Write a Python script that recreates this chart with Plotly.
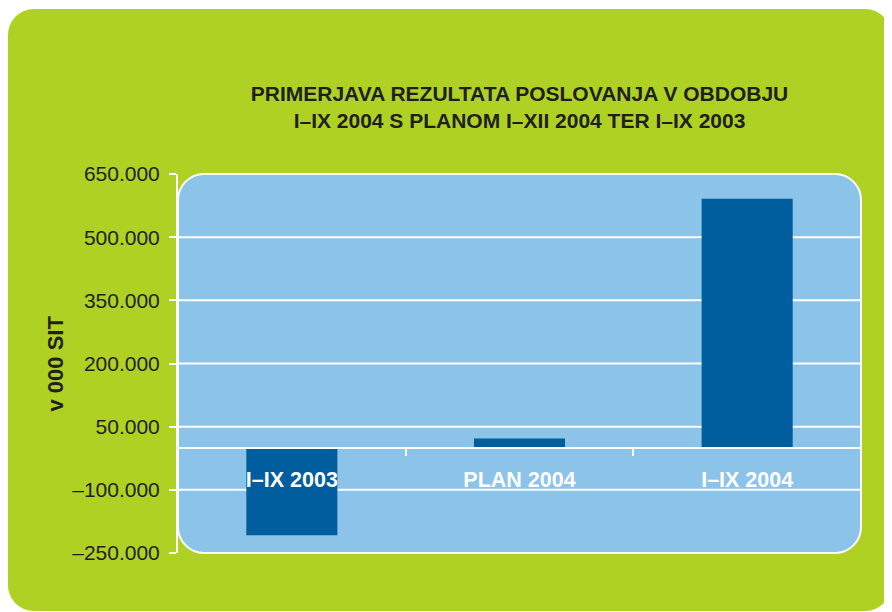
import plotly.graph_objects as go

# ---- data ----
categories = ["I–IX 2003", "PLAN 2004", "I–IX 2004"]
values = [-208000, 22000, 591000]
y_tickvals = [-250000, -100000, 50000, 200000, 350000, 500000, 650000]
y_ticktext = ["–250.000", "–100.000", "50.000", "200.000", "350.000", "500.000", "650.000"]
grid_values = [-100000, 50000, 200000, 350000, 500000]
y_range = [-250000, 650000]
title_text = "PRIMERJAVA REZULTATA POSLOVANJA V OBDOBJU<br>I–IX 2004 S PLANOM I–XII 2004 TER I–IX 2003"
y_title = "v 000 SIT"

# ---- layout constants (pixels, figure coordinates) ----
W, H = 892, 612
ML, MT = 170, 166
PLOT_R, PLOT_B = 853, 545
MR, MB = W - PLOT_R, H - PLOT_B
PW = W - ML - MR
PH = H - MT - MB

GREEN = "#AFD124"
PLOT_BLUE = "#8CC3E9"
BAR_BLUE = "#005E9E"
TEXT = "#1F1F1F"


def pp(x, y):
    return ((x - ML) / PW, (MT + PH - y) / PH)


def rounded_path(x0, y0, x1, y1, r):
    k = 0.5523 * r

    def P(x, y):
        a, b = pp(x, y)
        return f"{a:.5f},{b:.5f}"

    d = f"M {P(x0 + r, y0)} L {P(x1 - r, y0)} "
    d += f"C {P(x1 - r + k, y0)} {P(x1, y0 + r - k)} {P(x1, y0 + r)} "
    d += f"L {P(x1, y1 - r)} "
    d += f"C {P(x1, y1 - r + k)} {P(x1 - r + k, y1)} {P(x1 - r, y1)} "
    d += f"L {P(x0 + r, y1)} "
    d += f"C {P(x0 + r - k, y1)} {P(x0, y1 - r + k)} {P(x0, y1 - r)} "
    d += f"L {P(x0, y0 + r)} "
    d += f"C {P(x0, y0 + r - k)} {P(x0 + r - k, y0)} {P(x0 + r, y0)} Z"
    return d


fig = go.Figure()
fig.add_trace(go.Bar(
    x=categories, y=values, width=0.4,
    marker=dict(color=BAR_BLUE, line=dict(width=0)),
    hoverinfo="x+y",
))

shapes = [
    dict(type="path", xref="paper", yref="paper", layer="below",
         path=rounded_path(0, 1, 883, 603, 26), fillcolor=GREEN, line=dict(width=0)),
    dict(type="path", xref="paper", yref="paper", layer="below",
         path=rounded_path(ML, MT, ML + PW, MT + PH, 26), fillcolor=PLOT_BLUE,
         line=dict(color="white", width=2)),
]
for g in grid_values:
    shapes.append(dict(type="line", xref="x domain", yref="y", x0=0, x1=1, y0=g, y1=g,
                       layer="below", line=dict(color="white", width=2)))

zero_pos = (0 - y_range[0]) / (y_range[1] - y_range[0])

fig.update_layout(
    width=W, height=H,
    margin=dict(l=ML, r=MR, t=MT, b=MB, autoexpand=False),
    paper_bgcolor="white",
    plot_bgcolor="rgba(0,0,0,0)",
    showlegend=False,
    shapes=shapes,
    title=dict(text=title_text, x=0.5, xref="paper", xanchor="center",
               y=1 - 93 / H, yref="container", yanchor="top",
               font=dict(family="Liberation Sans, Arial, sans-serif", size=21,
                         color=TEXT, weight="bold")),
    font=dict(family="Liberation Sans, Arial, sans-serif"),
    xaxis=dict(type="category", anchor="free", position=zero_pos,
               showline=True, linecolor="white", linewidth=2,
               ticks="outside", tickson="boundaries", ticklen=7, tickwidth=2,
               tickcolor="white", showgrid=False, zeroline=False,
               ticklabelstandoff=12,
               tickfont=dict(size=21.5, color="white", weight="bold"),
               range=[-0.5, 2.5], fixedrange=True),
    yaxis=dict(range=y_range, tickvals=y_tickvals, ticktext=y_ticktext,
               showline=True, linecolor="white", linewidth=2,
               ticks="outside", ticklen=7, tickwidth=2, tickcolor="white",
               showgrid=False, zeroline=False, ticklabelstandoff=5,
               tickfont=dict(size=21, color=TEXT), fixedrange=True),
    annotations=[dict(text=y_title, textangle=-90, xref="paper", yref="paper",
                      x=(47 - ML) / PW, y=0.5, xanchor="center", yanchor="middle",
                      showarrow=False,
                      font=dict(size=22, color=TEXT, weight="bold"))],
)

fig.write_html("out.html")
